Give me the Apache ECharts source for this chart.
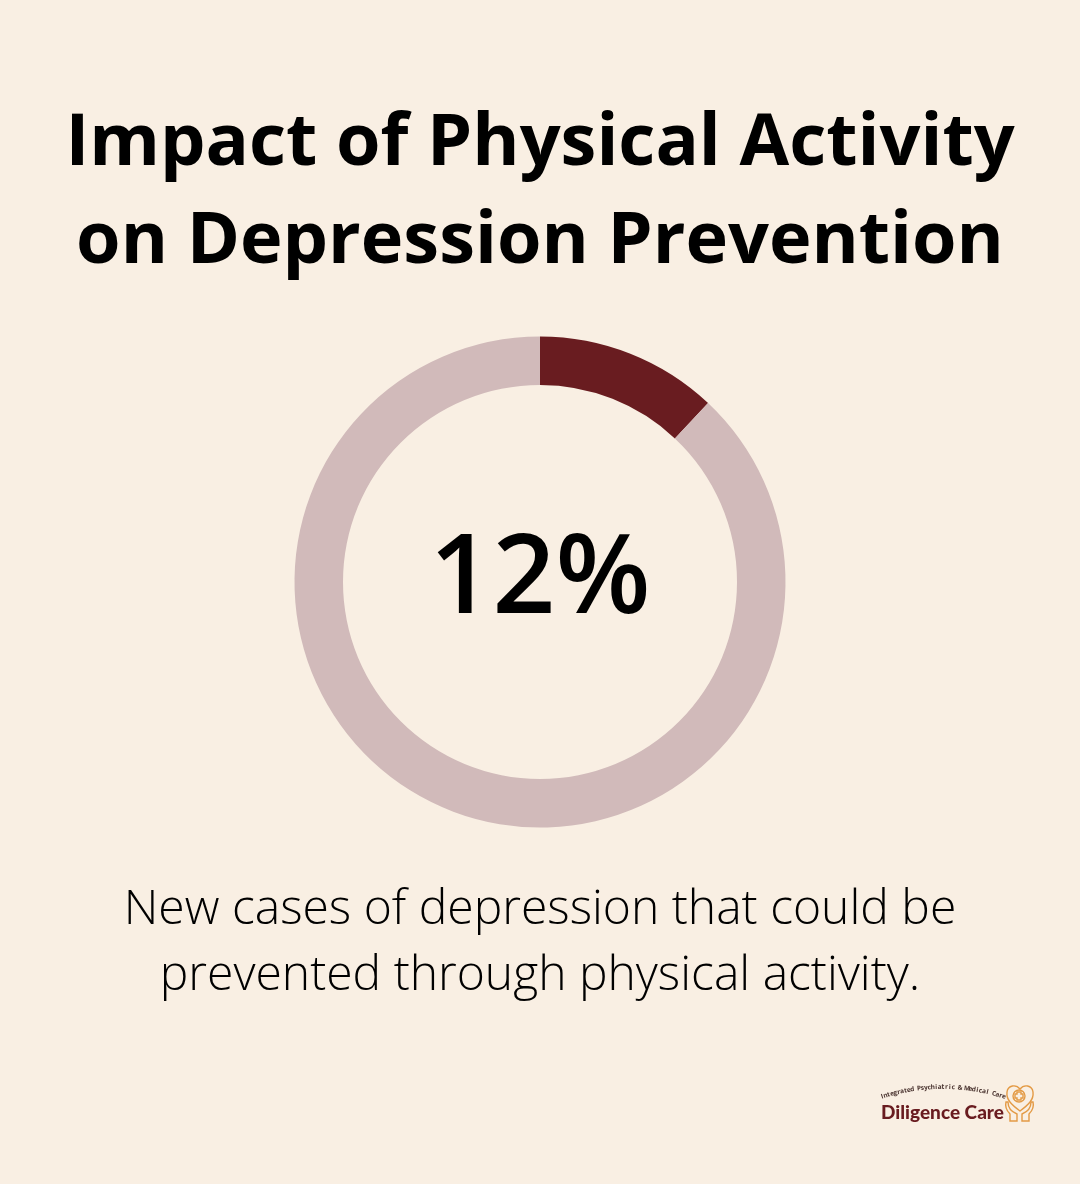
<!DOCTYPE html>
<html>
<head>
<meta charset="utf-8">
<style>
html, body { margin: 0; padding: 0; background: #f9efe3; }
#chart { width: 1080px; height: 1184px; }
</style>
<script src="https://cdn.jsdelivr.net/npm/echarts@6/dist/echarts.min.js"></script>
</head>
<body>
<div id="chart"></div>
<script>
var titleLines = ['Impact of Physical Activity', 'on Depression Prevention'];
var captionLines = ['New cases of depression that could be', 'prevented through physical activity.'];
var sliceNames = ['Preventable', 'Other'];
var sliceValues = [12, 88];
var sliceColors = ['#691c20', '#d1baba'];
var centerLabel = '12%';
var logoTop = 'Integrated Psychiatric & Medical Care';
var logoName = 'Diligence Care';

var chart = echarts.init(document.getElementById('chart'), null, { renderer: 'canvas' });

var data = [];
for (var i = 0; i < sliceValues.length; i++) {
    data.push({ name: sliceNames[i], value: sliceValues[i], itemStyle: { color: sliceColors[i] } });
}

// logo: small text bent over the name, one element per letter
var logoEls = [];
var arcX = 943, arcY = 1284, arcR = 197, arcSpan = 18;
for (var c = 0; c < logoTop.length; c++) {
    var deg = -arcSpan + 2 * arcSpan * c / (logoTop.length - 1);
    var rad = deg * Math.PI / 180;
    logoEls.push({
        type: 'text',
        x: arcX + arcR * Math.sin(rad),
        y: arcY - arcR * Math.cos(rad),
        rotation: -rad,
        style: {
            text: logoTop.charAt(c),
            fontFamily: 'Open Sans',
            fontWeight: 700,
            fontSize: 6.5,
            fill: '#4a3430',
            align: 'center',
            verticalAlign: 'middle'
        }
    });
}
logoEls.push({
    type: 'text',
    x: 881,
    y: 1113,
    style: {
        text: logoName,
        fontFamily: 'Lato',
        fontWeight: 900,
        fontSize: 19,
        fill: '#691c20',
        align: 'left',
        verticalAlign: 'middle'
    }
});

// logo: heart, cross and hands outline
var iconStyle = { fill: 'none', stroke: '#e39a45', lineWidth: 1.4 };
var iconPaths = {
    logoHeart: 'M1020 1111 C1012 1105 1006 1100 1007 1092 C1008 1085 1016 1084 1020 1089 C1024 1084 1032 1085 1033 1092 C1034 1100 1028 1105 1020 1111 Z',
    logoCross: 'M1017 1092 H1021 V1094 H1023 V1098 H1021 V1100 H1017 V1098 H1015 V1094 H1017 Z',
    logoHandL: 'M1008 1102 C1008 1108 1012 1112 1017 1114 V1121 H1010 V1114 C1007 1111 1005 1106 1006 1102 Z',
    logoHandR: 'M1031 1102 C1031 1108 1027 1112 1022 1114 V1121 H1029 V1114 C1032 1111 1034 1106 1033 1102 Z'
};
Object.keys(iconPaths).forEach(function (name) {
    echarts.graphic.registerShape(name, echarts.graphic.extendPath(iconPaths[name]));
    logoEls.push({ type: name, style: iconStyle });
});
logoEls.push({
    type: 'circle',
    shape: { cx: 1019, cy: 1096, r: 6 },
    style: iconStyle
});

chart.setOption({
    backgroundColor: '#f9efe3',
    animation: false,
    title: [
        { text: titleLines[0], left: 'center', top: 103, textStyle: { fontFamily: 'Open Sans', fontWeight: 700, fontSize: 72, color: '#000' } },
        { text: titleLines[1], left: 'center', top: 201, textStyle: { fontFamily: 'Open Sans', fontWeight: 700, fontSize: 72, color: '#000' } },
        { text: captionLines[0], left: 'center', top: 881, textStyle: { fontFamily: 'Open Sans', fontWeight: 300, fontSize: 48, color: '#000' } },
        { text: captionLines[1], left: 'center', top: 947, textStyle: { fontFamily: 'Open Sans', fontWeight: 300, fontSize: 48, color: '#000' } }
    ],
    graphic: { elements: logoEls },
    series: [{
        type: 'pie',
        center: [540, 582],
        radius: [197, 245.5],
        startAngle: 90,
        clockwise: true,
        silent: true,
        label: {
            show: true,
            position: 'center',
            formatter: function () { return centerLabel; },
            fontFamily: 'Open Sans',
            fontWeight: 600,
            fontSize: 110,
            color: '#000'
        },
        labelLine: { show: false },
        data: data
    }]
});
</script>
</body>
</html>
